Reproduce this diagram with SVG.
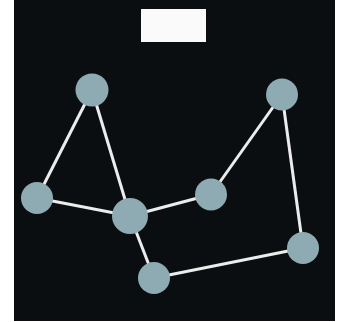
<svg xmlns="http://www.w3.org/2000/svg" width="349" height="322" viewBox="0 0 349 322">
<style>
.n{fill:#8eabb3}
.e{stroke:#ececec;stroke-width:3;fill:none}
</style>
<rect x="0" y="0" width="349" height="322" fill="#ffffff"/>
<rect x="14" y="0" width="321" height="321" fill="#0b0e10"/>
<rect x="141" y="9" width="65" height="33" fill="#fafafa"/>
<g id="connectors">
<line class="e" x1="92" y1="90" x2="37" y2="198"/>
<line class="e" x1="92" y1="90" x2="130" y2="216"/>
<line class="e" x1="37" y1="198" x2="130" y2="216"/>
<line class="e" x1="130" y1="216" x2="211" y2="194.5"/>
<line class="e" x1="211" y1="194.5" x2="282" y2="94.5"/>
<line class="e" x1="282" y1="94.5" x2="303" y2="248"/>
<line class="e" x1="303" y1="248" x2="154" y2="278"/>
<line class="e" x1="154" y1="278" x2="130" y2="216"/>
</g>
<g id="nodeA"><circle class="n" cx="92" cy="90" r="16.5"/></g>
<g id="nodeB"><circle class="n" cx="282" cy="94.5" r="16"/></g>
<g id="nodeC"><circle class="n" cx="37" cy="198" r="16"/></g>
<g id="nodeD"><circle class="n" cx="130" cy="216" r="18"/></g>
<g id="nodeE"><circle class="n" cx="211" cy="194.5" r="16"/></g>
<g id="nodeF"><circle class="n" cx="303" cy="248" r="16"/></g>
<g id="nodeG"><circle class="n" cx="154" cy="278" r="16"/></g>
</svg>
